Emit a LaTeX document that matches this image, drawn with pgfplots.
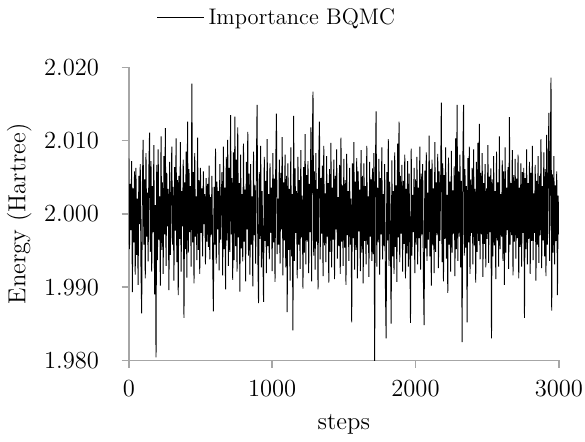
\documentclass[border=0pt]{standalone}
\usepackage{pgfplots}
\pgfplotsset{compat=1.18}

\begin{document}
\begin{tikzpicture}
\begin{axis}[
    scale only axis,
    width=210pt, height=143pt,
    font=\large,
    xmin=0, xmax=3000,
    ymin=1.98, ymax=2.02,
    xtick={0,1000,2000,3000},
    ytick={1.98,1.99,2.00,2.01,2.02},
    axis x line*=bottom, axis y line*=left,
    axis line style={gray!70, line width=0.8pt},
    tick style={gray!70, line width=0.8pt},
    tick align=outside,
    major tick length=3.5pt,
    x tick label style={/pgf/number format/1000 sep={}},
    y tick label style={/pgf/number format/fixed, /pgf/number format/fixed zerofill,
        /pgf/number format/precision=3},
    yticklabel style={xshift=-7.5pt},
    xticklabel style={yshift=-3pt, inner xsep=1pt},
    xlabel={steps},
    ylabel={Energy (Hartree)},
    xlabel style={yshift=-2pt},
    ylabel style={at={(axis description cs:0,0.5)}, anchor=south, yshift=44pt},
    legend style={draw=none, at={(rel axis cs:0.347,1.17)}, anchor=center,
        font=\fontsize{11}{13}\selectfont, fill=none},
    legend image code/.code={\draw[#1] (0cm,0cm) -- (0.8cm,0cm);},
    clip=true,
]
\addplot[black, line width=0.45pt] coordinates {
(0,2.0076) (5,1.9952) (10,2.0041) (15,1.9978) (20,2.0072) (25,1.9893) (30,2.0035) (35,1.9961) (40,2.0058) (45,1.9917)
(50,2.0063) (55,1.9944) (60,2.0021) (65,1.9903) (70,2.0052) (75,1.9986) (80,2.0068) (85,1.9927) (90,1.9864) (95,2.0039)
(100,2.0101) (105,1.9958) (110,2.0047) (115,1.9912) (120,2.0083) (125,1.9969) (130,2.0029) (135,1.9935) (140,2.0060) (145,2.0111)
(150,1.9948) (155,2.0072) (160,1.9921) (165,2.0038) (170,1.9975) (175,2.0094) (180,1.9890) (185,2.0012) (190,1.9804) (195,2.0067)
(200,1.9937) (205,2.0088) (210,1.9965) (215,2.0024) (220,1.9902) (225,2.0106) (230,1.9951) (235,2.0043) (240,1.9918) (245,2.0079)
(250,1.9972) (255,2.0117) (260,1.9929) (265,2.0056) (270,1.9983) (275,2.0034) (280,1.9896) (285,2.0071) (290,1.9944) (295,2.0015)
(300,2.0092) (305,1.9958) (310,2.0037) (315,1.9909) (320,2.0064) (325,1.9977) (330,2.0103) (335,1.9934) (340,2.0046) (345,1.9889)
(350,2.0052) (355,1.9966) (360,2.0098) (365,1.9921) (370,2.0031) (375,1.9983) (380,2.0074) (385,1.9858) (390,2.0043) (395,1.9952)
(400,2.0085) (405,1.9913) (410,2.0126) (415,1.9947) (420,2.0061) (425,1.9975) (430,2.0038) (435,1.9928) (440,2.0178) (445,1.9961)
(450,2.0057) (455,1.9905) (460,2.0083) (465,1.9969) (470,2.0024) (475,1.9937) (480,2.0104) (485,1.9951) (490,2.0046) (495,1.9918)
(500,2.0063) (505,1.9974) (510,2.0035) (515,1.9942) (520,2.0058) (525,1.9986) (530,2.0027) (535,1.9931) (540,2.0049) (545,1.9962)
(550,2.0041) (555,1.9955) (560,2.0066) (565,1.9938) (570,2.0023) (575,1.9971) (580,2.0052) (585,1.9944) (590,1.9867) (595,2.0037)
(600,1.9958) (605,2.0089) (610,1.9932) (615,2.0044) (620,1.9979) (625,2.0031) (630,1.9923) (635,2.0068) (640,1.9965) (645,2.0012)
(650,2.0057) (655,1.9916) (660,2.0092) (665,1.9952) (670,2.0036) (675,1.9897) (680,2.0078) (685,1.9964) (690,2.0101) (695,1.9929)
(700,2.0063) (705,1.9948) (710,2.0135) (715,1.9972) (720,2.0049) (725,1.9910) (730,2.0084) (735,1.9937) (740,2.0133) (745,1.9956)
(750,2.0074) (755,1.9921) (760,2.0118) (765,1.9968) (770,2.0042) (775,1.9894) (780,2.0081) (785,1.9953) (790,2.0027) (795,1.9935)
(800,2.0096) (805,1.9962) (810,2.0033) (815,1.9908) (820,2.0071) (825,1.9979) (830,2.0112) (835,1.9943) (840,2.0055) (845,1.9917)
(850,2.0068) (855,1.9958) (860,2.0024) (865,1.9901) (870,2.0085) (875,1.9971) (880,2.0039) (885,1.9932) (890,2.0063) (895,2.0149)
(900,1.9944) (905,1.9878) (910,2.0057) (915,1.9966) (920,2.0093) (925,1.9927) (930,2.0031) (935,1.9952) (940,1.9880) (945,2.0078)
(950,1.9963) (955,2.0045) (960,1.9919) (965,2.0102) (970,1.9956) (975,2.0027) (980,1.9938) (985,2.0069) (990,1.9974) (995,2.0036)
(1000,1.9922) (1005,2.0083) (1010,1.9961) (1015,2.0048) (1020,1.9907) (1025,2.0066) (1030,2.0137) (1035,1.9945) (1040,2.0021) (1045,1.9958)
(1050,2.0074) (1055,1.9932) (1060,2.0056) (1065,1.9979) (1070,2.0105) (1075,1.9916) (1080,2.0043) (1085,1.9964) (1090,2.0081) (1095,1.9927)
(1100,2.0052) (1105,1.9866) (1110,2.0069) (1115,1.9951) (1120,2.0034) (1125,1.9909) (1130,2.0091) (1135,1.9942) (1140,2.0027) (1145,1.9841)
(1150,2.0134) (1155,1.9936) (1160,2.0062) (1165,1.9974) (1170,2.0031) (1175,1.9912) (1180,2.0078) (1185,1.9958) (1190,2.0046) (1195,1.9925)
(1200,2.0087) (1205,1.9968) (1210,2.0025) (1215,1.9898) (1220,2.0064) (1225,1.9947) (1230,2.0109) (1235,1.9931) (1240,2.0053) (1245,1.9962)
(1250,2.0072) (1255,1.9919) (1260,2.0041) (1265,1.9975) (1270,2.0118) (1275,1.9908) (1280,2.0095) (1285,2.0167) (1290,1.9943) (1295,2.0058)
(1300,1.9924) (1305,2.0083) (1310,1.9962) (1315,2.0034) (1320,1.9897) (1325,2.0071) (1330,2.0126) (1335,1.9938) (1340,2.0049) (1345,1.9973)
(1350,2.0066) (1355,1.9915) (1360,2.0093) (1365,1.9957) (1370,2.0028) (1375,1.9934) (1380,2.0079) (1385,1.9969) (1390,2.0042) (1395,1.9906)
(1400,2.0061) (1405,1.9948) (1410,2.0097) (1415,1.9927) (1420,2.0036) (1425,1.9965) (1430,2.0074) (1435,1.9911) (1440,2.0052) (1445,1.9979)
(1450,2.0088) (1455,1.9939) (1460,2.0023) (1465,1.9956) (1470,2.0067) (1475,1.9918) (1480,2.0104) (1485,1.9962) (1490,2.0039) (1495,1.9929)
(1500,2.0075) (1505,1.9954) (1510,2.0046) (1515,1.9903) (1520,2.0082) (1525,1.9971) (1530,2.0031) (1535,1.9936) (1540,2.0063) (1545,1.9958)
(1550,2.0021) (1555,1.9852) (1560,2.0069) (1565,1.9967) (1570,2.0098) (1575,1.9924) (1580,2.0044) (1585,1.9951) (1590,2.0076) (1595,1.9912)
(1600,2.0058) (1605,1.9976) (1610,2.0033) (1615,1.9922) (1620,2.0087) (1625,1.9947) (1630,2.0052) (1635,1.9905) (1640,2.0069) (1645,1.9963)
(1650,2.0038) (1655,1.9931) (1660,2.0093) (1665,1.9958) (1670,2.0024) (1675,1.9914) (1680,2.0071) (1685,1.9969) (1690,2.0047) (1695,1.9936)
(1700,2.0062) (1705,1.9945) (1710,2.0083) (1715,1.9797) (1720,2.0054) (1725,2.0140) (1730,1.9928) (1735,2.0036) (1740,1.9961) (1745,2.0075)
(1750,1.9917) (1755,2.0049) (1760,1.9972) (1765,2.0091) (1770,1.9938) (1775,2.0027) (1780,1.9956) (1785,2.0068) (1790,1.9903) (1795,1.9830)
(1800,2.0057) (1805,1.9964) (1810,2.0102) (1815,1.9929) (1820,2.0044) (1825,1.9978) (1830,1.9850) (1835,2.0073) (1840,1.9942) (1845,2.0031)
(1850,1.9918) (1855,2.0084) (1860,1.9955) (1865,2.0039) (1870,1.9907) (1875,2.0096) (1880,1.9968) (1885,2.0126) (1890,1.9934) (1895,2.0052)
(1900,1.9973) (1905,2.0067) (1910,1.9921) (1915,2.0045) (1920,1.9959) (1925,2.0081) (1930,1.9912) (1935,2.0034) (1940,1.9946) (1945,2.0072)
(1950,1.9928) (1955,2.0055) (1960,1.9966) (1965,1.9851) (1970,2.0089) (1975,1.9943) (1980,2.0026) (1985,1.9975) (1990,2.0063) (1995,1.9919)
(2000,2.0047) (2005,1.9958) (2010,2.0078) (2015,1.9931) (2020,2.0036) (2025,1.9967) (2030,2.0092) (2035,1.9924) (2040,2.0055) (2045,1.9972)
(2050,2.0068) (2055,1.9911) (2060,1.9848) (2065,2.0059) (2070,1.9953) (2075,2.0084) (2080,1.9936) (2085,2.0029) (2090,1.9965) (2095,2.0107)
(2100,1.9942) (2105,2.0061) (2110,1.9902) (2115,2.0074) (2120,1.9957) (2125,2.0035) (2130,1.9919) (2135,2.0098) (2140,1.9948) (2145,2.0043)
(2150,1.9971) (2155,2.0082) (2160,1.9926) (2165,2.0058) (2170,1.9963) (2175,2.0037) (2180,2.0152) (2185,1.9934) (2190,2.0069) (2195,1.9908)
(2200,2.0053) (2205,1.9966) (2210,2.0091) (2215,1.9939) (2220,2.0026) (2225,1.9892) (2230,2.0077) (2235,1.9958) (2240,2.0044) (2245,1.9921)
(2250,2.0086) (2255,1.9947) (2260,2.0032) (2265,1.9973) (2270,2.0065) (2275,1.9915) (2280,2.0103) (2285,1.9952) (2290,2.0149) (2295,1.9936)
(2300,2.0058) (2305,1.9969) (2310,2.0081) (2315,1.9927) (2320,2.0045) (2325,1.9825) (2330,2.0072) (2335,2.0149) (2340,1.9943) (2345,2.0061)
(2350,1.9954) (2355,2.0038) (2360,1.9852) (2365,2.0076) (2370,1.9961) (2375,2.0092) (2380,1.9918) (2385,2.0047) (2390,1.9974) (2395,2.0063)
(2400,1.9931) (2405,2.0088) (2410,1.9957) (2415,2.0034) (2420,1.9906) (2425,2.0071) (2430,1.9948) (2435,2.0097) (2440,1.9963) (2445,2.0123)
(2450,1.9938) (2455,2.0056) (2460,1.9972) (2465,2.0083) (2470,1.9914) (2475,2.0042) (2480,1.9959) (2485,2.0068) (2490,1.9927) (2495,2.0035)
(2500,1.9966) (2505,2.0094) (2510,1.9933) (2515,2.0051) (2520,1.9975) (2525,2.0062) (2530,1.9830) (2535,2.0047) (2540,1.9942) (2545,2.0079)
(2550,1.9957) (2555,2.0031) (2560,1.9911) (2565,2.0085) (2570,1.9964) (2575,2.0043) (2580,1.9928) (2585,2.0106) (2590,1.9952) (2595,2.0027)
(2600,1.9969) (2605,2.0073) (2610,1.9936) (2615,2.0058) (2620,1.9903) (2625,2.0091) (2630,1.9947) (2635,2.0036) (2640,1.9978) (2645,2.0064)
(2650,1.9925) (2655,2.0132) (2660,1.9958) (2665,2.0042) (2670,1.9971) (2675,2.0087) (2680,1.9916) (2685,2.0053) (2690,1.9962) (2695,2.0075)
(2700,1.9939) (2705,2.0048) (2710,1.9967) (2715,2.0081) (2720,1.9912) (2725,2.0036) (2730,1.9955) (2735,2.0069) (2740,1.9928) (2745,2.0057)
(2750,1.9974) (2755,2.0063) (2760,1.9858) (2765,2.0049) (2770,1.9952) (2775,2.0088) (2780,1.9931) (2785,2.0042) (2790,1.9966) (2795,2.0071)
(2800,1.9918) (2805,2.0056) (2810,1.9963) (2815,2.0093) (2820,1.9937) (2825,2.0028) (2830,1.9974) (2835,2.0067) (2840,1.9909) (2845,2.0045)
(2850,1.9958) (2855,2.0079) (2860,1.9933) (2865,2.0052) (2870,1.9971) (2875,2.0102) (2880,1.9926) (2885,2.0038) (2890,1.9964) (2895,2.0084)
(2900,1.9942) (2905,2.0061) (2910,1.9915) (2915,2.0108) (2920,1.9958) (2925,2.0047) (2930,2.0138) (2935,1.9936) (2940,2.0072) (2945,2.0186)
(2950,1.9868) (2955,2.0054) (2960,1.9947) (2965,2.0079) (2970,1.9931) (2975,2.0039) (2980,1.9963) (2985,2.0058) (2990,1.9889) (2995,2.0025)
(3000,1.9972)
};
\addlegendentry{Importance BQMC}
\end{axis}
\end{tikzpicture}
\end{document}
